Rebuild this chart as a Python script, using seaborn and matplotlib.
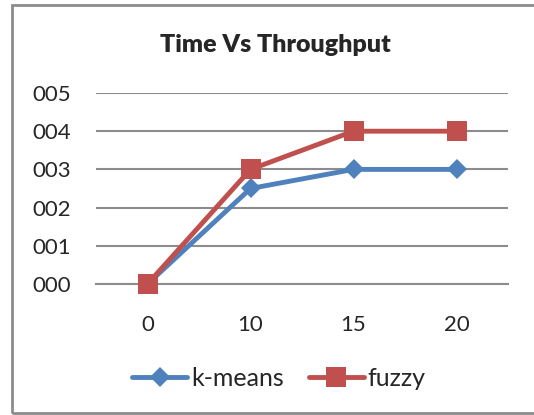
import pandas as pd
import matplotlib
matplotlib.use('Agg')
import matplotlib.pyplot as plt
import seaborn as sns
from matplotlib.patches import Rectangle

# chart values
time_labels = ['0', '10', '15', '20']
kmeans_vals = [0, 2.5, 3, 3]
fuzzy_vals = [0, 3, 4, 4]
y_ticks = [0, 1, 2, 3, 4, 5]
y_tick_labels = ['000', '001', '002', '003', '004', '005']

df = pd.DataFrame({
    'Time': time_labels * 2,
    'Throughput': kmeans_vals + fuzzy_vals,
    'Method': ['k-means'] * 4 + ['fuzzy'] * 4,
})

sns.set_theme(style='white')
plt.rcParams['font.family'] = ['Lato', 'DejaVu Sans']

fig = plt.figure(figsize=(5.34, 4.15), dpi=100)
ax = fig.add_axes([96 / 534, 1 - 284 / 415, 412 / 534, 191 / 415])

palette = {'k-means': '#4F81BD', 'fuzzy': '#C0504D'}
ax = sns.lineplot(data=df, x='Time', y='Throughput', hue='Method', style='Method',
                  markers={'k-means': 'D', 'fuzzy': 's'}, dashes=False,
                  palette=palette, linewidth=3.5, markeredgewidth=0, ax=ax, clip_on=False)

# bump the square size a bit over the diamond
for line in ax.lines:
    if line.get_marker() == 's':
        line.set_markersize(14)
    elif line.get_marker() == 'D':
        line.set_markersize(10)
    line.set_zorder(5)

ax.set_xlim(-0.5, 3.5)
ax.set_ylim(0, 5)
ax.set_yticks(y_ticks)
ax.set_yticklabels(y_tick_labels)
ax.yaxis.grid(True, color='#8c8c8c', linewidth=1.5)
ax.set_axisbelow(True)
for s in ['left', 'right', 'top']:
    ax.spines[s].set_visible(False)
ax.spines['bottom'].set_color('#8c8c8c')
ax.spines['bottom'].set_linewidth(1.5)
ax.tick_params(axis='y', labelsize=16, length=0, pad=18)
ax.tick_params(axis='x', labelsize=16, length=0, pad=22)
ax.set_xlabel('')
ax.set_ylabel('')

fig.text(275 / 534, 1 - 45 / 415, 'Time Vs Throughput', ha='center', va='center',
         fontsize=18, fontweight='heavy')

handles, labels = ax.get_legend_handles_labels()
for h in handles:
    if h.get_marker() == 's':
        h.set_markersize(14)
    elif h.get_marker() == 'D':
        h.set_markersize(10)
ax.legend(handles, labels, loc='center', bbox_to_anchor=(279 / 534, 1 - 378 / 415),
          bbox_transform=fig.transFigure, ncol=2, frameon=False, fontsize=18,
          handlelength=2.2, handletextpad=0.15, columnspacing=1.0)

# outer chart border (right edge runs off the image)
fig.patches.append(Rectangle((12 / 534, 1 - 413 / 415), 560 / 534, 408 / 415,
                             transform=fig.transFigure, fill=False,
                             edgecolor='#8c8c8c', linewidth=2))

fig.savefig('out.png', dpi=100)
